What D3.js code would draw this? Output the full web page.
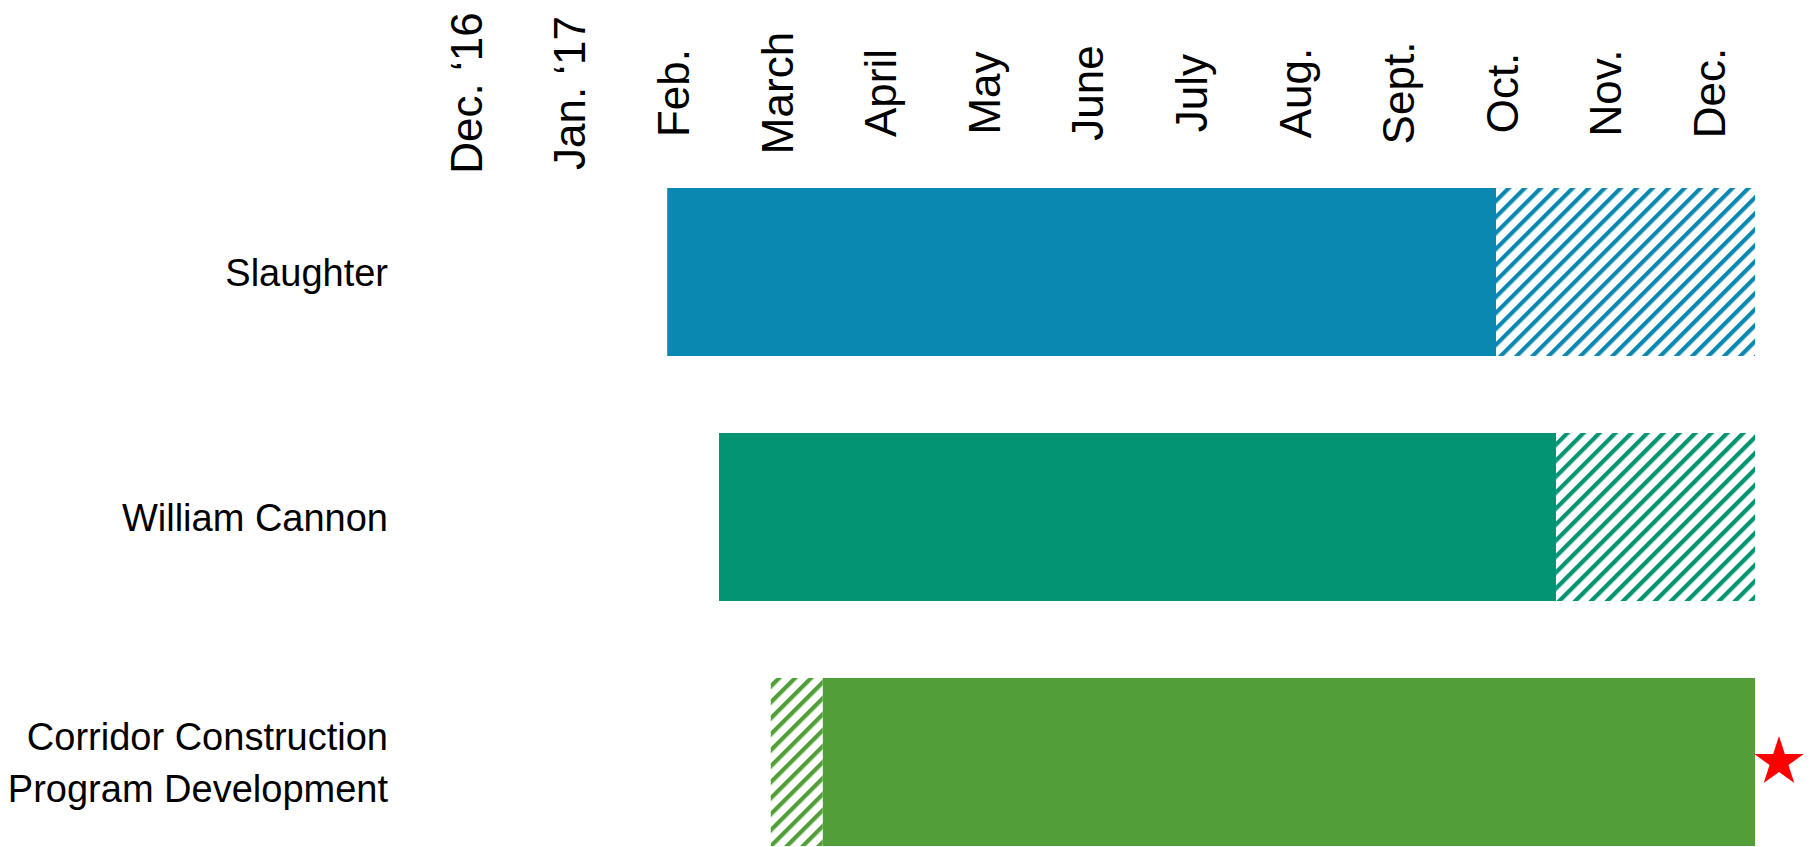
<!DOCTYPE html>
<html>
<head>
<meta charset="utf-8">
<script src="https://d3js.org/d3.v7.min.js"></script>
<style>
    body { margin: 0; background: #fff; }
    .monthLabel { font-family: "Liberation Sans", Arial, sans-serif; font-size: 44px; fill: #000; }
    .rowLabel { font-family: "Liberation Sans", Arial, sans-serif; font-size: 38px; fill: #000; }
</style>
</head>
<body>
<script>
(function(){

//month labels along the top (index 0 = start of Dec. '16)
var months = ["Dec. \u201816", "Jan. \u201817", "Feb.", "March", "April", "May", "June",
              "July", "Aug.", "Sept.", "Oct.", "Nov.", "Dec."];

//project rows
var projects = ["Slaughter", "William Cannon", "Corridor Construction|Program Development"];

//solid (confirmed) part of each bar, in months from Dec. '16
var solidStart = [2, 2.5, 3.5];
var solidEnd = [10, 10.58, 12.5];

//hatched (projected) part of each bar
var hatchStart = [10, 10.58, 3];
var hatchEnd = [12.5, 12.5, 3.5];

//rows flagged with a star
var starred = [false, false, true];

var colors = ["#0a88b1", "#039473", "#529e38"];

//frame dimensions
var width = 1810,
    height = 847;

var svg = d3.select("body")
    .append("svg")
    .attr("width", width)
    .attr("height", height);

//x scale: month index -> pixels
var x = d3.scaleLinear()
    .domain([0, 12])
    .range([460, 1703.2]);

//y scale: one band per project
var y = d3.scaleBand()
    .domain(projects)
    .range([188, 846])
    .paddingInner(0.3143)
    .paddingOuter(0);

//hatch patterns, one per colour
var defs = svg.append("defs");
colors.forEach(function(c, i){
    var p = defs.append("pattern")
        .attr("id", "hatch" + i)
        .attr("patternUnits", "userSpaceOnUse")
        .attr("width", 11.3)
        .attr("height", 11.3)
        .attr("patternTransform", "rotate(45)");
    p.append("rect")
        .attr("width", 11.3)
        .attr("height", 11.3)
        .attr("fill", "#fff");
    p.append("rect")
        .attr("width", 4.2)
        .attr("height", 11.3)
        .attr("fill", c);
});

//month labels, rotated
svg.selectAll(".monthLabel")
    .data(months)
    .enter()
    .append("text")
    .attr("class", "monthLabel")
    .attr("text-anchor", "middle")
    .attr("dy", "0.36em")
    .attr("transform", function(d, i){
        return "translate(" + (x(i) + 6) + ",93) rotate(-90)";
    })
    .text(function(d){ return d; });

//solid bars
svg.selectAll(".solid")
    .data(projects)
    .enter()
    .append("rect")
    .attr("class", "solid")
    .attr("x", function(d, i){ return x(solidStart[i]); })
    .attr("y", function(d){ return y(d); })
    .attr("width", function(d, i){ return x(solidEnd[i]) - x(solidStart[i]); })
    .attr("height", y.bandwidth())
    .attr("fill", function(d, i){ return colors[i]; });

//hatched bars
svg.selectAll(".hatch")
    .data(projects)
    .enter()
    .append("rect")
    .attr("class", "hatch")
    .attr("x", function(d, i){ return x(hatchStart[i]); })
    .attr("y", function(d){ return y(d); })
    .attr("width", function(d, i){ return x(hatchEnd[i]) - x(hatchStart[i]); })
    .attr("height", y.bandwidth())
    .attr("fill", function(d, i){ return "url(#hatch" + i + ")"; });

//row labels (split on | for two lines)
var labels = svg.selectAll(".rowLabel")
    .data(projects)
    .enter()
    .append("text")
    .attr("class", "rowLabel")
    .attr("text-anchor", "end")
    .attr("x", 388)
    .attr("y", function(d){ return y(d) + y.bandwidth() / 2; });

labels.each(function(d){
    var lines = d.split("|");
    var t = d3.select(this);
    lines.forEach(function(line, k){
        t.append("tspan")
            .attr("x", 388)
            .attr("dy", k == 0 ? (0.36 - (lines.length - 1) * 0.685) + "em" : "1.37em")
            .text(line);
    });
});

//red star after flagged bars
svg.selectAll(".star")
    .data(projects.filter(function(d, i){ return starred[i]; }))
    .enter()
    .append("path")
    .attr("class", "star")
    .attr("d", d3.symbol().type(d3.symbolStar).size(760))
    .attr("transform", function(d){
        var i = projects.indexOf(d);
        var end = Math.max(solidEnd[i], hatchEnd[i]);
        return "translate(" + (x(end) + 24) + "," + (y(d) + y.bandwidth() / 2) + ")";
    })
    .attr("fill", "#ff0000");

})();
</script>
</body>
</html>
